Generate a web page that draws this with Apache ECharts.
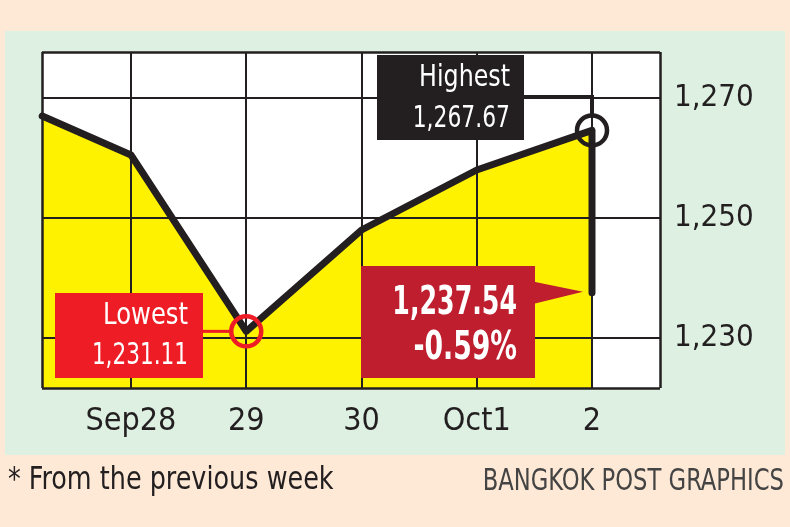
<!DOCTYPE html>
<html>
<head>
<meta charset="utf-8">
<script src="https://cdn.jsdelivr.net/npm/echarts@6/dist/echarts.min.js"></script>
<style>html,body{margin:0;padding:0;background:#fde9d5;}#c{width:790px;height:527px;}</style>
</head>
<body>
<div id="c"></div>
<script>
// ---- data ----
var dayLabels = ['Sep28', '29', '30', 'Oct1', '2'];
var dayPos = [1, 2, 3, 4, 5];
var pointX = [0.23, 1, 2, 3, 4, 5, 5];              // first = previous week close, last two = day-2 high & close
var pointY = [1267.0, 1260.5, 1231.11, 1248.0, 1258.0, 1264.6, 1237.54];
var yTicks = [1230, 1250, 1270];
var highText = ['Highest', '1,267.67'];
var lowText = ['Lowest', '1,231.11'];
var closeText = ['1,237.54', '-0.59%'];
var footLeft = '* From the previous week';
var footRight = 'BANGKOK POST GRAPHICS';

var FONT = "'DejaVu Sans Condensed', 'Liberation Sans Narrow', 'Noto Sans', sans-serif";
var INK = '#231f20';
var xMin = 0.228, xMax = 5.59, yMin = 1221.67, yMax = 1277.67;

var lineData = pointX.map(function (x, i) { return [x, pointY[i]]; });
var hiIdx = 5, loIdx = 2, clIdx = 6;

var chart = echarts.init(document.getElementById('c'), null, {renderer: 'canvas'});

var gridLines = [];
dayPos.forEach(function (d) { gridLines.push({xAxis: d}); });
yTicks.forEach(function (t) { gridLines.push({yAxis: t}); });
var borderLines = [{xAxis: xMin}, {xAxis: xMax}, {yAxis: yMin}, {yAxis: yMax}];

chart.setOption({
  backgroundColor: '#fde9d5',
  animation: false,
  grid: {left: 42, right: 130, top: 52, bottom: 139, show: true, backgroundColor: '#ffffff', borderWidth: 0, z: 1},
  xAxis: {
    type: 'value', min: xMin, max: xMax,
    splitLine: {show: false}, axisLine: {show: false}, axisTick: {show: false},
    axisLabel: {
      customValues: dayPos, margin: 18,
      formatter: function (v) { return dayLabels[dayPos.indexOf(Math.round(v))] || ''; },
      color: INK, fontFamily: FONT, fontSize: 32
    }
  },
  yAxis: {
    type: 'value', position: 'right', min: yMin, max: yMax,
    splitLine: {show: false}, axisLine: {show: false}, axisTick: {show: false},
    axisLabel: {
      customValues: yTicks, margin: 14,
      formatter: function (v) { return echarts.format.addCommas(Math.round(v)); },
      color: INK, fontFamily: FONT, fontSize: 31
    }
  },
  series: [
    {
      type: 'line', data: lineData, z: 2, symbol: 'none',
      lineStyle: {width: 0}, areaStyle: {color: '#fff200', opacity: 1}
    },
    {
      type: 'line', data: [], z: 3, symbol: 'none',
      markLine: {
        silent: true, symbol: 'none', label: {show: false}, animation: false,
        lineStyle: {color: INK, width: 2, type: 'solid'},
        data: gridLines
      }
    },
    {
      type: 'line', data: lineData, z: 5, symbol: 'none',
      lineStyle: {color: INK, width: 7, join: 'round', cap: 'round'}
    },
    {
      type: 'line', data: [], z: 6, symbol: 'none',
      markLine: {
        silent: true, symbol: 'none', label: {show: false}, animation: false,
        lineStyle: {color: INK, width: 2.5, type: 'solid'},
        data: borderLines
      }
    },
    {
      type: 'scatter', z: 8, symbol: 'circle', symbolSize: 30, silent: true,
      data: [
        {value: lineData[hiIdx], itemStyle: {color: 'rgba(0,0,0,0)', borderColor: INK, borderWidth: 4.5, opacity: 1}},
        {value: lineData[loIdx], itemStyle: {color: 'rgba(0,0,0,0)', borderColor: '#ee1c25', borderWidth: 4.5, opacity: 1}}
      ]
    }
  ]
});

// ---- annotations anchored to the data points ----
var pHi = chart.convertToPixel({gridIndex: 0}, lineData[hiIdx]);
var pLo = chart.convertToPixel({gridIndex: 0}, lineData[loIdx]);
var pCl = chart.convertToPixel({gridIndex: 0}, lineData[clIdx]);
var pTop = chart.convertToPixel({gridIndex: 0}, [xMin, yTicks[2]]);

var hiBox = {x: 377, y: 55, w: 147, h: 85};
var loBox = {x: 55, y: 293, w: 148, h: 85};
var clBox = {x: 361, y: 266, w: 174, h: 112};
var connY = pTop[1] - 1;

function txt(str, x, y, font, fill, align, sx) {
  return {type: 'text', z: 52, silent: true, x: x, y: y, scaleX: sx, scaleY: 1, originX: 0, originY: 0,
    style: {text: str, fill: fill, font: font, textAlign: align, textVerticalAlign: 'middle'}};
}

chart.setOption({
  graphic: [
    // green panel
    {type: 'rect', z: -10, silent: true, shape: {x: 5, y: 31, width: 780, height: 424}, style: {fill: '#ddf0e2'}},
    // Highest connector
    {type: 'polyline', z: 50, silent: true,
      shape: {points: [[hiBox.x + hiBox.w - 2, connY], [pHi[0], connY], [pHi[0], pHi[1] - 15]]},
      style: {stroke: INK, lineWidth: 4, fill: null}},
    {type: 'rect', z: 51, silent: true, shape: {x: hiBox.x, y: hiBox.y, width: hiBox.w, height: hiBox.h}, style: {fill: INK}},
    txt(highText[0], hiBox.x + hiBox.w - 14, hiBox.y + 23, '30px ' + FONT, '#fff', 'right', 0.88),
    txt(highText[1], hiBox.x + hiBox.w - 14, hiBox.y + 64, '30px ' + FONT, '#fff', 'right', 0.81),
    // Lowest connector + box
    {type: 'line', z: 50, silent: true,
      shape: {x1: loBox.x + loBox.w - 2, y1: pLo[1], x2: pLo[0] - 15, y2: pLo[1]},
      style: {stroke: '#ee1c25', lineWidth: 3}},
    {type: 'rect', z: 51, silent: true, shape: {x: loBox.x, y: loBox.y, width: loBox.w, height: loBox.h}, style: {fill: '#ee1c25'}},
    txt(lowText[0], loBox.x + loBox.w - 15, loBox.y + 23, '30px ' + FONT, '#fff', 'right', 0.9),
    txt(lowText[1], loBox.x + loBox.w - 15, loBox.y + 63, '30px ' + FONT, '#fff', 'right', 0.8),
    // Close callout
    {type: 'polygon', z: 51, silent: true,
      shape: {points: [[clBox.x + clBox.w - 1, pCl[1] - 11], [pCl[0] - 9, pCl[1] - 1], [clBox.x + clBox.w - 1, pCl[1] + 11]]},
      style: {fill: '#be1e2d'}},
    {type: 'rect', z: 51, silent: true, shape: {x: clBox.x, y: clBox.y, width: clBox.w, height: clBox.h}, style: {fill: '#be1e2d'}},
    txt(closeText[0], clBox.x + clBox.w - 18, clBox.y + 38, 'bold 39px ' + FONT, '#fff', 'right', 0.72),
    txt(closeText[1], clBox.x + clBox.w - 18, clBox.y + 83, 'bold 39px ' + FONT, '#fff', 'right', 0.76),
    // footer
    txt(footLeft, 8, 481, '32px ' + FONT, INK, 'left', 0.885),
    txt(footRight, 784, 482, '30px ' + FONT, '#444444', 'right', 0.84)
  ]
});
</script>
</body>
</html>
